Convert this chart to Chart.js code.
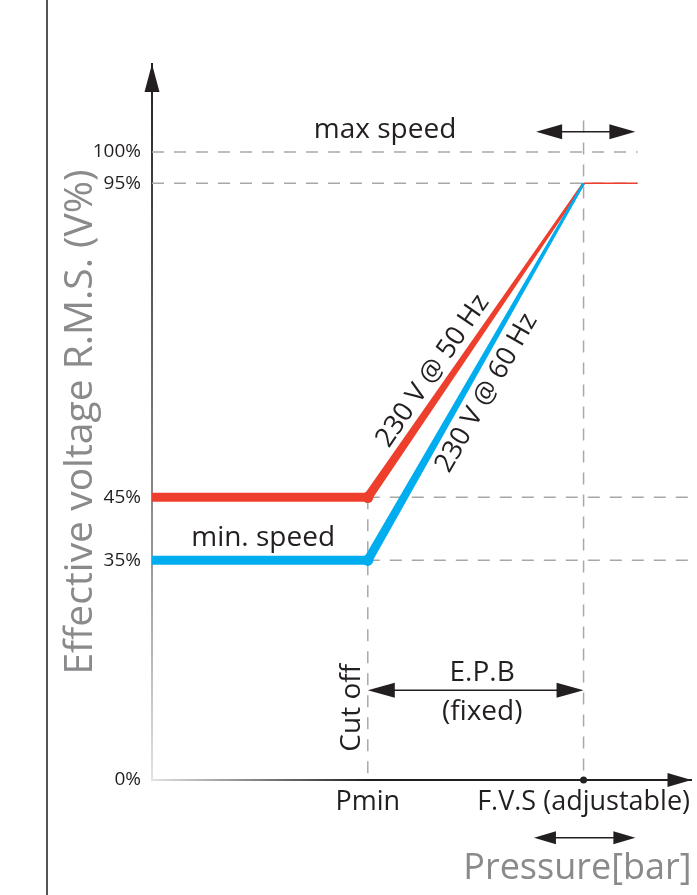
<!DOCTYPE html>
<html>
<head>
<meta charset="utf-8">
<title>Voltage vs pressure</title>
<script src="https://cdn.jsdelivr.net/npm/chart.js@4.4.1/dist/chart.umd.min.js"></script>
<style>
    html, body { margin: 0; padding: 0; background: #fff; }
    #wrap { position: relative; width: 697px; height: 895px; }
    #wrap:before { content: ''; position: absolute; left: 46px; top: 0; bottom: 0; border-left: 2px solid #555; }
    canvas { display: block; }
</style>
</head>
<body>
<div id="wrap"><canvas id="chart" width="697" height="895"></canvas></div>
<script>
// === Data ===
// x is in "pressure steps": 0 = origin, 1 = Pmin, 2 = F.V.S
var xTicks = [1, 2];
var xTickLabels = ['Pmin', 'F.V.S (adjustable)'];
var yTicks = [0, 35, 45, 95, 100];

var curve50X = [0, 1, 2, 2.25];
var curve50Y = [45, 45, 95, 95];
var curve60X = [0, 1, 2];
var curve60Y = [35, 35, 95];

// dashed guide lines
var hGuideLevels = [100, 95, 45, 35];
var hGuideFrom = [0, 0, 1, 1];
var hGuideTo = [2.25, 2.25, 2.5, 2.5];
var vGuideX = [1, 2];
var vGuideTop = [45, 105];

var RED = '#ee3f2d';
var BLUE = '#00adee';
var GUIDE = '#a8a8a8';
var INK = '#231f20';
var FONT = "'Open Sans', 'Noto Sans', sans-serif";

function toPts(xs, ys) {
    return xs.map(function(x, i) { return { x: x, y: ys[i] }; });
}

// === Datasets ===
var datasets = [];

datasets.push({
    label: '230 V @ 50 Hz',
    data: toPts(curve50X, curve50Y),
    borderColor: RED,
    backgroundColor: RED,
    borderWidth: 9,
    segment: { borderWidth: function(ctx) { return [9, 2.5, 1.5][ctx.p0DataIndex]; } },
    pointRadius: function(ctx) { return ctx.dataIndex === 1 ? 5.5 : 0; },
    pointBorderWidth: 0,
    pointBackgroundColor: RED,
    taper: [9, 2.5],
    order: 0
});
datasets.push({
    label: '230 V @ 60 Hz',
    data: toPts(curve60X, curve60Y),
    borderColor: BLUE,
    backgroundColor: BLUE,
    borderWidth: 9,
    segment: { borderWidth: function(ctx) { return [9, 2.5][ctx.p0DataIndex]; } },
    pointRadius: function(ctx) { return ctx.dataIndex === 1 ? 5.5 : 0; },
    pointBorderWidth: 0,
    pointBackgroundColor: BLUE,
    taper: [9, 2.5],
    order: 1
});

hGuideLevels.forEach(function(lvl, i) {
    datasets.push({
        data: [{ x: hGuideFrom[i], y: lvl }, { x: hGuideTo[i], y: lvl }],
        borderColor: GUIDE, borderWidth: 1.5, borderDash: [12, 10],
        pointRadius: 0, order: 10
    });
});
vGuideX.forEach(function(x, i) {
    datasets.push({
        data: [{ x: x, y: vGuideTop[i] }, { x: x, y: 0 }],
        borderColor: GUIDE, borderWidth: 1.5, borderDash: [12, 10],
        pointRadius: 0, order: 10
    });
});

// marker on the x axis at F.V.S
datasets.push({
    data: [{ x: 2, y: 0 }],
    showLine: false,
    pointRadius: 3.5,
    pointBorderWidth: 0,
    pointBackgroundColor: '#222',
    clip: false,
    order: -1
});

// === Annotations (layout, in axis units) ===
var notes = [
    { text: 'max speed', x: 1.08, y: 103.5, size: 28 },
    { text: 'min. speed', x: 0.515, y: 38.5, size: 28 },
    { text: 'E.P.B', x: 1.53, y: 17.0, size: 28 },
    { text: '(fixed)', x: 1.53, y: 10.8, size: 28 },
    { text: 'Cut off', x: 0.925, y: 11.5, size: 28, rot: -Math.PI / 2 }
];
// labels laid along the sloped part of a curve: t = fraction along, off = normal offset px
var slopeNotes = [
    { text: '230 V @ 50 Hz', ds: 0, t: 0.37, off: 18, size: 27 },
    { text: '230 V @ 60 Hz', ds: 1, t: 0.47, off: -20, size: 27 }
];
var arrowSpans = [
    { x0: 1.78, x1: 2.24, y: 103.2, head: 26, half: 7.5 },
    { x0: 1, x1: 2, y: 14.3, head: 27, half: 7.5 },
    { x0: 1.77, x1: 2.24, y: -9.2, head: 22, half: 6.5 }
];

function drawArrowHead(ctx, x, y, dir, len, half) {
    ctx.beginPath();
    ctx.moveTo(x, y);
    ctx.lineTo(x - dir * len, y - half);
    ctx.lineTo(x - dir * len, y + half);
    ctx.closePath();
    ctx.fill();
}

// axes fade towards the origin in the original drawing
var axisFadePlugin = {
    id: 'axisFade',
    beforeDatasetsDraw: function(chart) {
        var ctx = chart.ctx;
        var a = chart.chartArea;
        var pmin = chart.scales.x.getPixelForValue(1);
        ctx.save();
        ctx.lineWidth = 2;

        var gy = ctx.createLinearGradient(0, a.top, 0, a.bottom);
        gy.addColorStop(0, INK);
        gy.addColorStop(0.3, '#555');
        gy.addColorStop(0.7, '#999');
        gy.addColorStop(1, '#e2e2e2');
        ctx.strokeStyle = gy;
        ctx.beginPath();
        ctx.moveTo(a.left, a.top);
        ctx.lineTo(a.left, a.bottom + 1);
        ctx.stroke();

        var gx = ctx.createLinearGradient(a.left, 0, pmin, 0);
        gx.addColorStop(0, '#e2e2e2');
        gx.addColorStop(1, INK);
        ctx.strokeStyle = gx;
        ctx.beginPath();
        ctx.moveTo(a.left - 1, a.bottom);
        ctx.lineTo(pmin, a.bottom);
        ctx.stroke();
        ctx.restore();
    }
};

var taperPlugin = {
    id: 'taper',
    afterDatasetsDraw: function(chart) {
        var ctx = chart.ctx;
        chart.data.datasets.forEach(function(ds, i) {
            if (!ds.taper) return;
            var pts = chart.getDatasetMeta(i).data;
            var a = pts[1], b = pts[2];
            var dx = b.x - a.x, dy = b.y - a.y;
            var len = Math.sqrt(dx * dx + dy * dy);
            var nx = -dy / len, ny = dx / len;
            var w0 = ds.taper[0] / 2, w1 = ds.taper[1] / 2;
            ctx.save();
            ctx.fillStyle = ds.borderColor;
            ctx.beginPath();
            ctx.moveTo(a.x + nx * w0, a.y + ny * w0);
            ctx.lineTo(b.x + nx * w1, b.y + ny * w1);
            ctx.lineTo(b.x - nx * w1, b.y - ny * w1);
            ctx.lineTo(a.x - nx * w0, a.y - ny * w0);
            ctx.closePath();
            ctx.fill();
            ctx.beginPath();
            ctx.arc(a.x, a.y, 5.5, 0, Math.PI * 2);
            ctx.fill();
            ctx.restore();
        });
    }
};

var notesPlugin = {
    id: 'notes',
    afterDraw: function(chart) {
        var ctx = chart.ctx;
        var xs = chart.scales.x, ys = chart.scales.y;
        var area = chart.chartArea;
        ctx.save();

        // axis arrow heads
        ctx.fillStyle = INK;
        ctx.beginPath();
        ctx.moveTo(area.left, area.top);
        ctx.lineTo(area.left - 7.5, area.top + 28);
        ctx.lineTo(area.left + 7.5, area.top + 28);
        ctx.closePath();
        ctx.fill();
        drawArrowHead(ctx, area.right, area.bottom, 1, 24, 7);

        // double arrows
        arrowSpans.forEach(function(s) {
            var x0 = xs.getPixelForValue(s.x0), x1 = xs.getPixelForValue(s.x1);
            var y = ys.getPixelForValue(s.y);
            ctx.strokeStyle = INK;
            ctx.lineWidth = 1.5;
            ctx.beginPath();
            ctx.moveTo(x0 + s.head - 2, y);
            ctx.lineTo(x1 - s.head + 2, y);
            ctx.stroke();
            drawArrowHead(ctx, x0, y, -1, s.head, s.half);
            drawArrowHead(ctx, x1, y, 1, s.head, s.half);
        });

        // plain notes
        ctx.fillStyle = INK;
        ctx.textAlign = 'center';
        ctx.textBaseline = 'middle';
        notes.forEach(function(n) {
            ctx.save();
            ctx.translate(xs.getPixelForValue(n.x), ys.getPixelForValue(n.y));
            if (n.rot) ctx.rotate(n.rot);
            ctx.font = n.size + 'px ' + FONT;
            ctx.fillText(n.text, 0, 0);
            ctx.restore();
        });

        // notes along the sloped segments
        slopeNotes.forEach(function(n) {
            var pts = chart.getDatasetMeta(n.ds).data;
            var a = pts[1], b = pts[2];
            var dx = b.x - a.x, dy = b.y - a.y;
            var len = Math.sqrt(dx * dx + dy * dy);
            var nx = -dy / len, ny = dx / len;
            var px = a.x + dx * n.t - nx * n.off;
            var py = a.y + dy * n.t - ny * n.off;
            ctx.save();
            ctx.translate(px, py);
            ctx.rotate(Math.atan2(dy, dx));
            ctx.font = n.size + 'px ' + FONT;
            ctx.fillText(n.text, 0, 0);
            ctx.restore();
        });
        ctx.restore();
    }
};

new Chart(document.getElementById('chart'), {
    type: 'line',
    data: { datasets: datasets },
    options: {
        responsive: false,
        animation: false,
        layout: { padding: { top: 64, right: 5, left: 0, bottom: 0 } },
        plugins: { legend: { display: false }, tooltip: { enabled: false } },
        scales: {
            x: {
                type: 'linear',
                min: 0,
                max: 2.5,
                afterFit: function(scale) { scale.height = 115; },
                afterBuildTicks: function(scale) {
                    scale.ticks = xTicks.map(function(v) { return { value: v }; });
                },
                grid: { display: false, drawTicks: false },
                border: { display: true, color: INK, width: 2 },
                ticks: {
                    autoSkip: false,
                    maxRotation: 0,
                    padding: 6,
                    color: INK,
                    font: { family: FONT, size: 27 },
                    callback: function(v) { return xTickLabels[xTicks.indexOf(v)]; }
                },
                title: {
                    display: true,
                    text: 'Pressure[bar]',
                    align: 'end',
                    color: '#8a8a8c',
                    font: { family: FONT, size: 36, lineHeight: 1 },
                    padding: { top: 0, bottom: 8 }
                }
            },
            y: {
                type: 'linear',
                min: 0,
                max: 114,
                afterFit: function(scale) { scale.width = 152; },
                afterBuildTicks: function(scale) {
                    scale.ticks = yTicks.map(function(v) { return { value: v }; });
                },
                grid: { display: false, drawTicks: false },
                border: { display: true, color: INK, width: 2 },
                ticks: {
                    padding: 11,
                    color: INK,
                    font: { family: FONT, size: 19 },
                    callback: function(v) { return v + '%'; }
                },
                title: {
                    display: true,
                    text: 'Effective voltage R.M.S. (V%)',
                    color: '#8a8a8c',
                    font: { family: FONT, size: 39, lineHeight: 1 },
                    padding: { top: 61, bottom: 0 }
                }
            }
        }
    },
    plugins: [axisFadePlugin, taperPlugin, notesPlugin]
});
</script>
</body>
</html>
